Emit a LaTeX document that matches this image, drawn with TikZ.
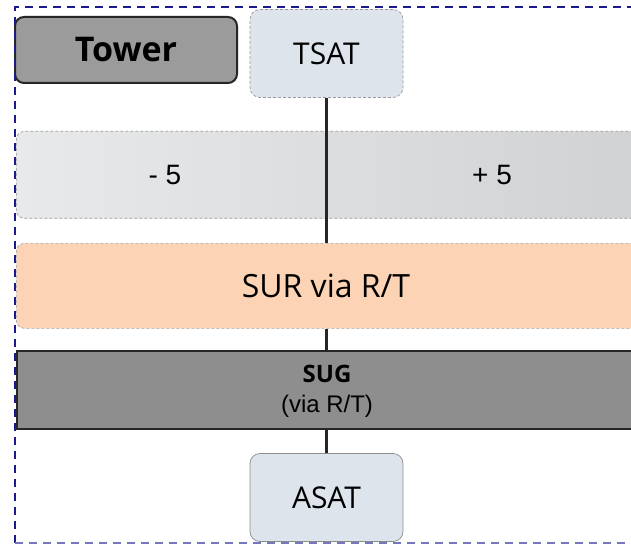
\documentclass[tikz,border=0pt]{standalone}
\usepackage{fontspec}
\setmainfont{Liberation Sans}
\newfontfamily\headfont{Open Sans}
\begin{document}
\begin{tikzpicture}[x=1pt,y=-1pt,
  band/.style={draw=#1, rounded corners=8pt, anchor=north west, minimum width=640pt, inner sep=0pt},
  satbox/.style={draw=gray!80, densely dashed, line width=0.7pt, fill=satfill, rounded corners=10pt, minimum width=153pt, minimum height=88pt, inner sep=0pt, font=\headfont\fontsize{30}{32}\selectfont},
  conn/.style={draw=black!85, line width=2.2pt}]
\definecolor{satfill}{HTML}{DDE4EC}
\definecolor{navyb}{HTML}{1A1A8C}
\definecolor{surfill}{HTML}{FCD3B4}
\definecolor{sugfill}{HTML}{8E8E8E}
\definecolor{towerfill}{HTML}{9B9B9B}
\definecolor{pmleft}{HTML}{E7E9EB}
\definecolor{pmright}{HTML}{D0D1D3}
\useasboundingbox (0,0) rectangle (631,545);
\clip (0,0) rectangle (631,545);
\fill[white] (0,0) rectangle (631,545);
% bands
\node[band=gray!80, left color=pmleft, right color=pmright, minimum height=87pt, densely dashed, line width=0.7pt] (pm) at (16,131) {};
\node[band=gray!70, fill=surfill, minimum height=85pt, densely dashed, line width=0.7pt] (sur) at (16,243) {};
\node[font=\headfont\fontsize{32}{34}\selectfont] (surtxt) at (326,286) {SUR via R/T};
\node[draw=black!85, line width=2pt, fill=sugfill, anchor=north west, minimum width=640pt, minimum height=78pt, inner sep=0pt] (sug) at (16,350) {};
\node[font=\headfont\bfseries\fontsize{24}{26}\selectfont] (sugtxt) at (327,374) {SUG};
\node[font=\fontsize{24}{26}\selectfont] (sugsub) at (327,406) {(via R/T)};
\node[font=\fontsize{28}{30}\selectfont] (minus) at (165,175) {- 5};
\node[font=\fontsize{28}{30}\selectfont] (plus) at (492,175) {+ 5};
% boxes
\node[draw=black!85, line width=2pt, fill=towerfill, rounded corners=9pt, minimum width=222pt, minimum height=66pt, inner sep=0pt, font=\headfont\bfseries\fontsize{34}{36}\selectfont] (tower) at (126,50) {Tower};
\node[satbox] (tsat) at (326.5,53.5) {TSAT};
\node[satbox, solid, draw=gray!90] (asat) at (326.5,497.5) {ASAT};
% connectors
\draw[conn] (tsat.south) -- (sur.north -| tsat.south);
\draw[conn] (sur.south -| tsat.south) -- (sug.north -| tsat.south);
\draw[conn] (sug.south -| asat.north) -- (asat.north);
% border
\draw[navyb, line width=2pt, dash pattern=on 8pt off 6pt] (15,543) -- (15,7) -- (640,7);
\draw[navyb!60, line width=2pt, dash pattern=on 8pt off 6pt] (15,543) -- (640,543);
\end{tikzpicture}
\end{document}
